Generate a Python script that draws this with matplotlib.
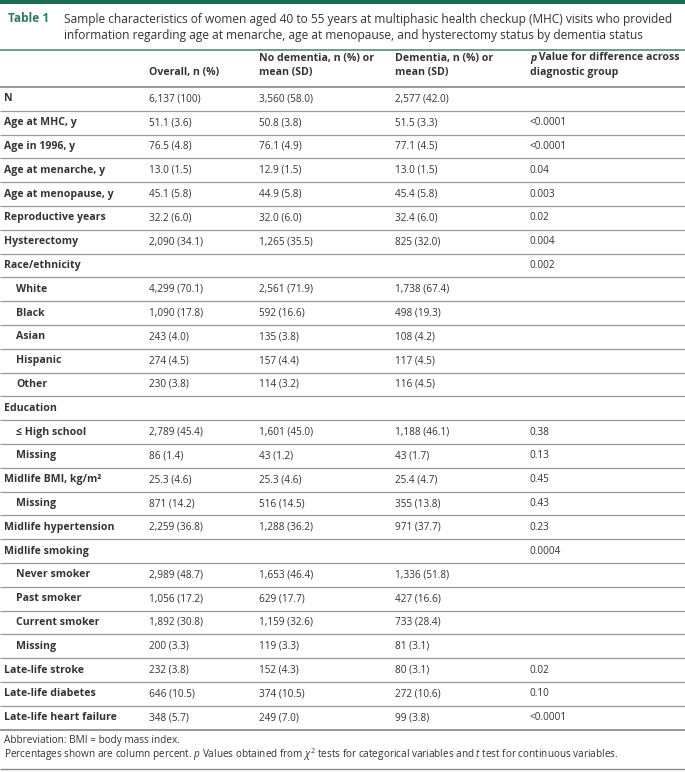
import matplotlib
matplotlib.use("Agg")
import matplotlib.pyplot as plt

plt.rcParams['font.family'] = ['Open Sans', 'DejaVu Sans']
plt.rcParams['mathtext.fontset'] = 'custom'
plt.rcParams['mathtext.rm'] = 'Open Sans'
plt.rcParams['mathtext.it'] = 'Open Sans:italic'
plt.rcParams['mathtext.bf'] = 'Open Sans:bold'

title_label = "Table 1"
title_lines = ["Sample characteristics of women aged 40 to 55 years at multiphasic health checkup (MHC) visits who provided",
               "information regarding age at menarche, age at menopause, and hysterectomy status by dementia status"]

col_headers = [["Overall, n (%)"],
               ["No dementia, n (%) or", "mean (SD)"],
               ["Dementia, n (%) or", "mean (SD)"],
               ["p Value for difference across", "diagnostic group"]]

labels = ["N", "Age at MHC, y", "Age in 1996, y", "Age at menarche, y", "Age at menopause, y",
          "Reproductive years", "Hysterectomy", "Race/ethnicity", "White", "Black", "Asian",
          "Hispanic", "Other", "Education", "≤ High school", "Missing", "Midlife BMI, kg/m²",
          "Missing", "Midlife hypertension", "Midlife smoking", "Never smoker", "Past smoker",
          "Current smoker", "Missing", "Late-life stroke", "Late-life diabetes",
          "Late-life heart failure"]
indent = [0, 0, 0, 0, 0, 0, 0, 0, 1, 1, 1, 1, 1, 0, 1, 1, 0, 1, 0, 0, 1, 1, 1, 1, 0, 0, 0]
overall = ["6,137 (100)", "51.1 (3.6)", "76.5 (4.8)", "13.0 (1.5)", "45.1 (5.8)", "32.2 (6.0)",
           "2,090 (34.1)", "", "4,299 (70.1)", "1,090 (17.8)", "243 (4.0)", "274 (4.5)",
           "230 (3.8)", "", "2,789 (45.4)", "86 (1.4)", "25.3 (4.6)", "871 (14.2)",
           "2,259 (36.8)", "", "2,989 (48.7)", "1,056 (17.2)", "1,892 (30.8)", "200 (3.3)",
           "232 (3.8)", "646 (10.5)", "348 (5.7)"]
no_dementia = ["3,560 (58.0)", "50.8 (3.8)", "76.1 (4.9)", "12.9 (1.5)", "44.9 (5.8)", "32.0 (6.0)",
               "1,265 (35.5)", "", "2,561 (71.9)", "592 (16.6)", "135 (3.8)", "157 (4.4)",
               "114 (3.2)", "", "1,601 (45.0)", "43 (1.2)", "25.3 (4.6)", "516 (14.5)",
               "1,288 (36.2)", "", "1,653 (46.4)", "629 (17.7)", "1,159 (32.6)", "119 (3.3)",
               "152 (4.3)", "374 (10.5)", "249 (7.0)"]
dementia = ["2,577 (42.0)", "51.5 (3.3)", "77.1 (4.5)", "13.0 (1.5)", "45.4 (5.8)", "32.4 (6.0)",
            "825 (32.0)", "", "1,738 (67.4)", "498 (19.3)", "108 (4.2)", "117 (4.5)",
            "116 (4.5)", "", "1,188 (46.1)", "43 (1.7)", "25.4 (4.7)", "355 (13.8)",
            "971 (37.7)", "", "1,336 (51.8)", "427 (16.6)", "733 (28.4)", "81 (3.1)",
            "80 (3.1)", "272 (10.6)", "99 (3.8)"]
pvals = ["", "<0.0001", "<0.0001", "0.04", "0.003", "0.02", "0.004", "0.002", "", "", "", "",
         "", "", "0.38", "0.13", "0.45", "0.43", "0.23", "0.0004", "", "", "", "", "0.02",
         "0.10", "<0.0001"]

footnotes = ["Abbreviation: BMI = body mass index.",
             r"Percentages shown are column percent. $\it{p}$ Values obtained from $\chi^2$ tests for categorical variables and $\it{t}$ test for continuous variables."]

W, H = 685, 772
fig = plt.figure(figsize=(W / 100, H / 100), dpi=100)
ax = fig.add_axes([0, 0, 1, 1])
ax.set_xlim(0, W)
ax.set_ylim(H, 0)
ax.axis('off')

green_dark = "#1d6a4c"
green_title = "#2b7a59"
txt = "#333333"
line_c = "#9a9a9a"
fs = 7.2
fsb = 7.6
fst = 8.6

# top bar
ax.axhspan(0, 4, color=green_dark, lw=0)

ax.text(8, 19, title_label, fontsize=fst, fontweight='bold', color=green_title, va='center')
ax.text(64, 19, title_lines[0], fontsize=fst, color=txt, va='center')
ax.text(64, 35, title_lines[1], fontsize=fst, color=txt, va='center')

ax.plot([0, W], [50, 50], color="#6f9c8c", lw=1.4, solid_capstyle='butt')

col_x = [149, 259, 395, 530]
fig.canvas.draw()
renderer = fig.canvas.get_renderer()
for cx, hdr in zip(col_x, col_headers):
    ys = [72] if len(hdr) == 1 else [58, 72]
    for i, (yy, line) in enumerate(zip(ys, hdr)):
        if line.startswith("p ") and i == 0:
            t = ax.text(cx, yy, "p", fontsize=fsb, fontweight='bold', fontstyle='italic', color=txt, va='center')
            bb = t.get_window_extent(renderer)
            ax.text(cx + bb.width, yy, line[1:], fontsize=fsb, fontweight='bold', color=txt, va='center')
        else:
            ax.text(cx, yy, line, fontsize=fsb, fontweight='bold', color=txt, va='center')

top = 87
rh = 23.8
ax.plot([0, W], [top, top], color="#888888", lw=1.2, solid_capstyle='butt')
for i, lab in enumerate(labels):
    yc = top + rh * (i + 0.5)
    xl = 16 if indent[i] else 4
    ax.text(xl, yc, lab, fontsize=fsb, fontweight='bold', color=txt, va='center')
    for cx, vals in zip(col_x, [overall, no_dementia, dementia, pvals]):
        if vals[i]:
            ax.text(cx, yc, vals[i], fontsize=fs, color=txt, va='center')
    yb = top + rh * (i + 1)
    last = i == len(labels) - 1
    ax.plot([0, W], [yb, yb], color="#888888" if last else line_c,
            lw=1.2 if last else 0.9, solid_capstyle='butt')

ax.text(4, 741, footnotes[0], fontsize=fs, color=txt, va='center')
ax.text(4, 755, footnotes[1], fontsize=fs, color=txt, va='center')
ax.plot([0, W], [769, 769], color="#888888", lw=1.0, solid_capstyle='butt')

fig.savefig("out.png", dpi=100)
